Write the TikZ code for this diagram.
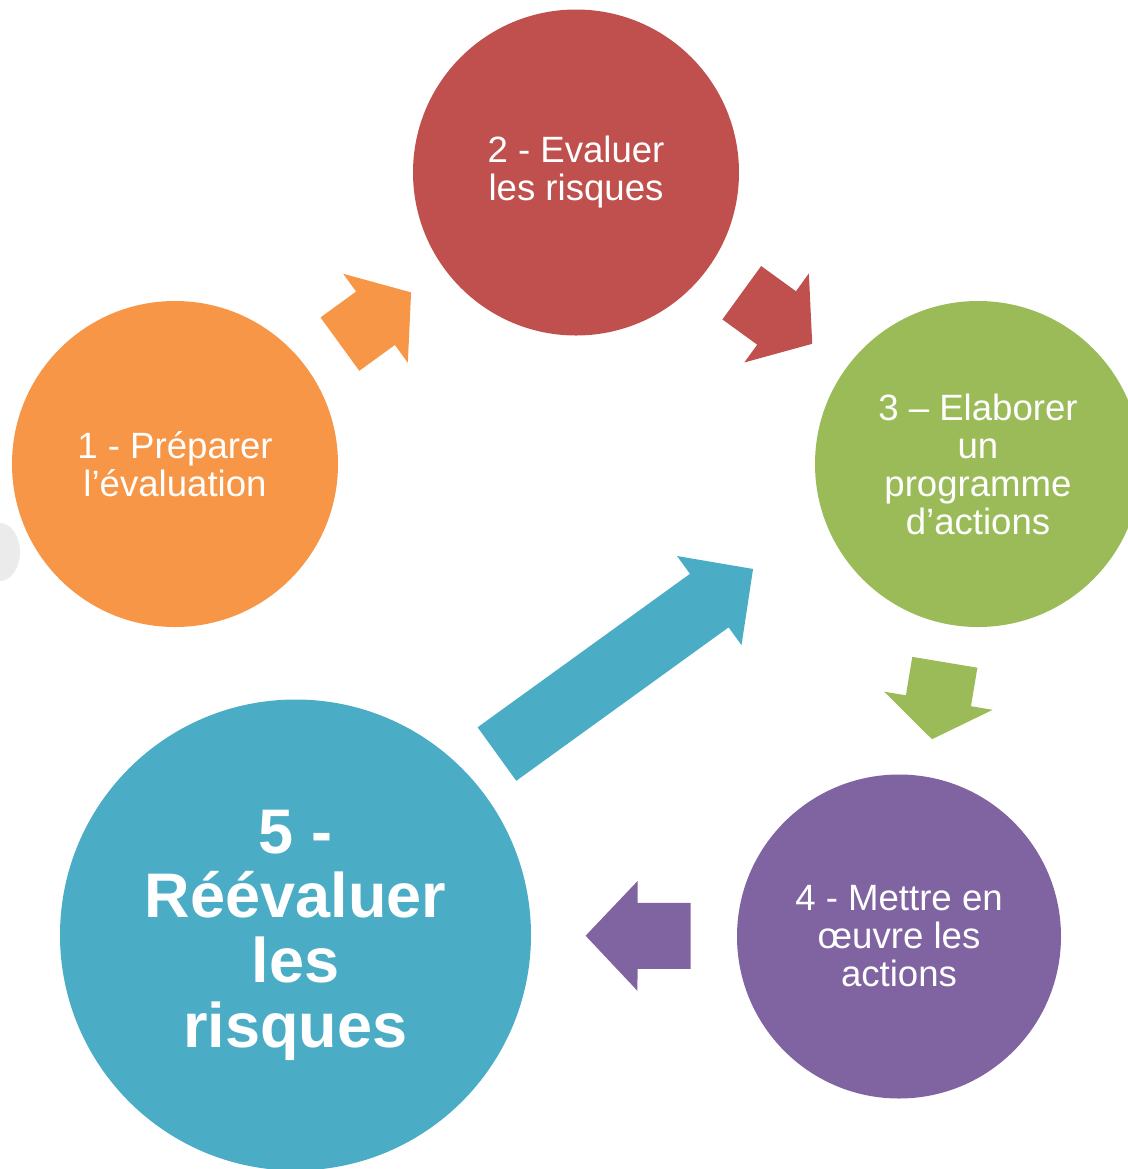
\documentclass[tikz,border=0pt]{standalone}
\usepackage{fontspec}
\setmainfont{Liberation Sans}
\usetikzlibrary{shapes}
\usetikzlibrary{arrows}
\definecolor{orange1}{HTML}{F79646}
\definecolor{red1}{HTML}{C0504D}
\definecolor{green1}{HTML}{9BBB59}
\definecolor{purple1}{HTML}{8064A2}
\definecolor{blue1}{HTML}{4BACC6}
\tikzset{
  pics/blockarrow/.style n args={3}{code={
    \fill[#3] (-#1/2,-33) -- (#1/2-#2,-33) -- (#1/2-#2,-55) -- (#1/2,0) -- (#1/2-#2,55) -- (#1/2-#2,33) -- (-#1/2,33) -- cycle;
  }}
}
\begin{document}
\begin{tikzpicture}[x=0.5pt, y=0.5pt,
  stage/.style={circle, inner sep=0pt, minimum size=163pt, text=white, align=center, font=\fontsize{18.3}{19}\selectfont}]
\clip (0,0) rectangle (1128,-1169);
\fill[black!8] (0,-552) ellipse (20 and 29);
\node[stage, fill=orange1] (s1) at (175,-464) {1 - Préparer\\l’évaluation};
\node[stage, fill=red1] (s2) at (576,-172.5) {2 - Evaluer\\les risques};
\node[stage, fill=green1] (s3) at (978,-464) {3 – Elaborer\\un\\programme\\d’actions};
\node[stage, fill=purple1, minimum size=162pt] (s4) at (899,-936.5) {4 - Mettre en\\œuvre les\\actions};
\node[stage, fill=blue1, minimum size=235.5pt, font=\fontsize{31.5}{32.3}\selectfont\bfseries] (s5) at (295.5,-935) {5 -\\Réévaluer\\les\\risques};
% arrows between the steps
\foreach \a/\b/\len/\head/\col/\p in {s1/s2/88/44/orange1/.5, s2/s3/87/44/red1/.5, s3/s4/78/39/green1/.5, s4/s5/105/52/purple1/.48}
  \path (\a) -- (\b) pic[pos=\p, sloped, allow upside down]{blockarrow={\len}{\head}{\col}};
\coordinate (b0) at (497,-754);
\coordinate (b1) at (753,-569);
\path (b0) -- (b1) pic[pos=.5, sloped]{blockarrow={316}{54}{blue1}};
\end{tikzpicture}
\end{document}
